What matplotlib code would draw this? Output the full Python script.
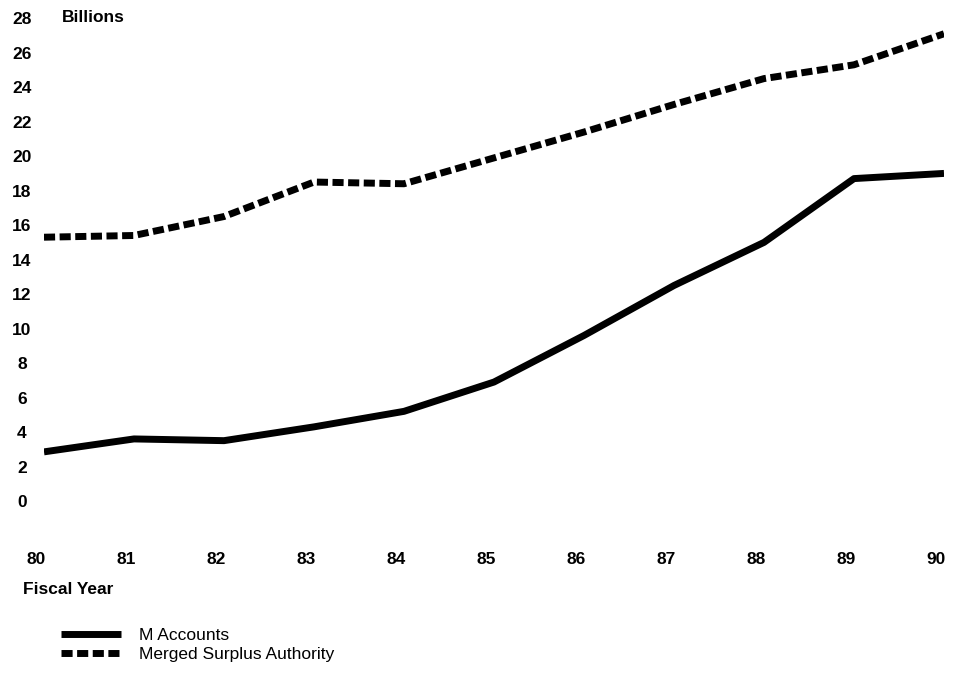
import matplotlib
matplotlib.use("Agg")
import matplotlib.pyplot as plt
import matplotlib.transforms as mtransforms

years = [80, 81, 82, 83, 84, 85, 86, 87, 88, 89, 90]
m_accounts = [2.85, 3.6, 3.5, 4.3, 5.2, 6.9, 9.6, 12.5, 15.0, 18.7, 19.0]
merged_surplus = [15.3, 15.4, 16.5, 18.5, 18.4, 19.9, 21.4, 23.0, 24.5, 25.3, 27.1]
y_ticks = list(range(0, 30, 2))
x_labels = [str(y) for y in years]

plt.rcParams['font.family'] = ['Liberation Sans', 'DejaVu Sans']

W, H = 956, 677
fig = plt.figure(figsize=(W / 100, H / 100), dpi=100)
left_px, right_px = 44, 944
bottom_px, top_px = 501, 18.25
ax = fig.add_axes([left_px / W, 1 - bottom_px / H,
                   (right_px - left_px) / W, (bottom_px - top_px) / H])
ax.set_xlim(80, 90)
ax.set_ylim(0, 28)
for s in ax.spines.values():
    s.set_visible(False)

ax.plot(years, m_accounts, color='black', lw=5, solid_capstyle='butt',
        solid_joinstyle='round', label='M Accounts')
ax.plot(years, merged_surplus, color='black', lw=5, dashes=(1.6, 0.65),
        dash_capstyle='butt', label='Merged Surplus Authority')

ax.set_yticks(y_ticks)
ax.set_yticklabels([str(v) for v in y_ticks], fontsize=12.5, fontweight='bold')
ax.tick_params(axis='y', length=0, pad=15.8)
for lab in ax.get_yticklabels():
    lab.set_horizontalalignment('center')

ax.set_xticks(years)
ax.set_xticklabels(x_labels, fontsize=12.5, fontweight='bold')
ax.tick_params(axis='x', length=0, pad=36.5)
offset = mtransforms.ScaledTranslation(-8 / 100, 0, fig.dpi_scale_trans)
for lab in ax.get_xticklabels():
    lab.set_transform(lab.get_transform() + offset)

fig.text(62 / W, 1 - 17 / H, 'Billions', fontsize=12.5, fontweight='bold',
         ha='left', va='center')
fig.text(23 / W, 1 - 590 / H, 'Fiscal Year', fontsize=12.5, fontweight='bold',
         ha='left', va='center')

leg = fig.legend(loc='upper left', bbox_to_anchor=(54 / W, 1 - 621 / H),
                 frameon=False, fontsize=12.5, handlelength=3.45,
                 handletextpad=1.05, labelspacing=0.22, borderaxespad=0)

fig.savefig('out.png', dpi=100, facecolor='white')
